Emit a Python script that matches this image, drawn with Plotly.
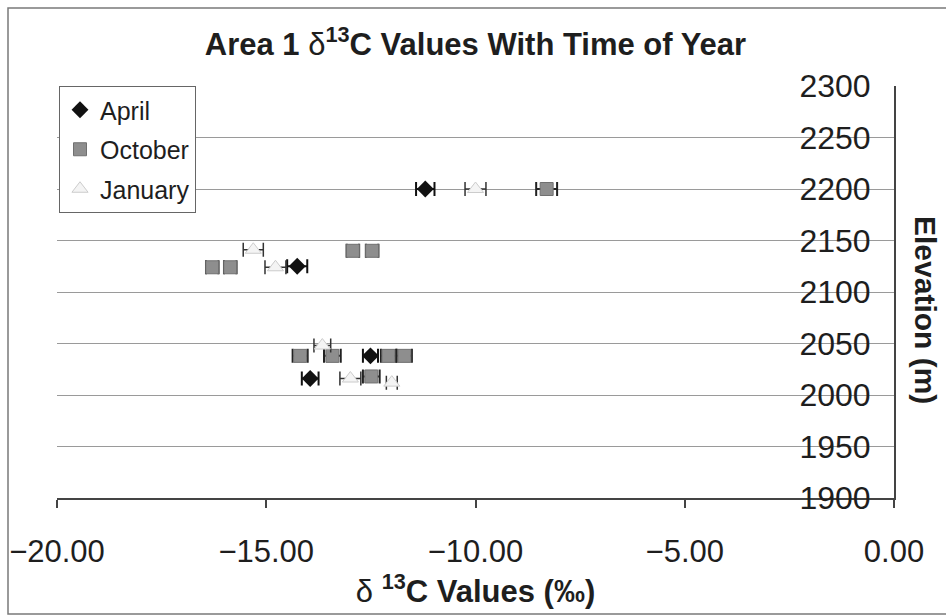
import plotly.graph_objects as go

# ---- data ----
april_x = [-11.20, -14.26, -12.51, -13.95]
april_y = [2200, 2125, 2038, 2016]
april_err = [0.22, 0.24, 0.18, 0.20]

october_x = [-8.30, -12.93, -12.47, -16.29, -15.86, -14.19, -13.42, -12.08, -11.70, -12.49]
october_y = [2200, 2140, 2140, 2124, 2124, 2038, 2038, 2038, 2038, 2018]
october_err = [0.25, 0.15, 0.15, 0.15, 0.15, 0.18, 0.20, 0.18, 0.18, 0.20]

january_x = [-10.00, -15.31, -14.78, -13.66, -12.99, -12.00]
january_y = [2200, 2141, 2124, 2048, 2016, 2012]
january_err = [0.25, 0.24, 0.25, 0.20, 0.25, 0.13]

x_range = [-20, 0]
y_range = [1900, 2300]

FONT = "Liberation Sans, Arial, sans-serif"
TXT = "#1e1e1e"

# plot area in pixels (for paper conversions)
L, R, T, B = 57, 894, 86, 498
W, H = 946, 616


def px_x(px):
    return (px - L) / (R - L)


def px_y(py):
    return (B - py) / (B - T)


fig = go.Figure()

fig.add_trace(go.Scatter(
    x=april_x, y=april_y, mode="markers", name="April", legendgroup="a",
    marker=dict(symbol="diamond", size=13, color="#111111",
                line=dict(width=0)),
    error_x=dict(type="data", array=april_err, visible=True,
                 color="#111111", thickness=2, width=7),
))
fig.add_trace(go.Scatter(
    x=october_x, y=october_y, mode="markers", name="October", legendgroup="o",
    marker=dict(symbol="square", size=13, color="#8e8e8e",
                line=dict(width=1, color="#707070")),
    error_x=dict(type="data", array=october_err, visible=True,
                 color="#222222", thickness=2, width=7),
))
fig.add_trace(go.Scatter(
    x=january_x, y=january_y, mode="markers", name="January", legendgroup="j",
    marker=dict(symbol="triangle-up", size=14, color="#f4f4f4",
                line=dict(width=1, color="#cccccc")),
    error_x=dict(type="data", array=january_err, visible=True,
                 color="#333333", thickness=1.5, width=7),
))

fig.update_layout(
    width=W, height=H,
    paper_bgcolor="white", plot_bgcolor="white",
    margin=dict(l=L, r=W - R, t=T, b=H - B, pad=0, autoexpand=False),
    font=dict(family=FONT, color=TXT),
    title=dict(
        text="<b>Area 1 </b>δ<sup><b>13</b></sup><b>C Values With Time of Year</b>",
        font=dict(size=31, family=FONT, color=TXT),
        x=(L + R) / 2 / W, xanchor="center", xref="container",
        y=1 - 44 / H, yanchor="middle", yref="container",
        automargin=False,
    ),
    showlegend=True,
    legend=dict(
        x=px_x(59), y=1.0, xanchor="left", yanchor="top",
        bgcolor="white", bordercolor="#666666", borderwidth=1,
        font=dict(size=25, family=FONT, color=TXT),
        traceorder="grouped", tracegroupgap=4,
        itemwidth=30,
    ),
    xaxis=dict(
        range=x_range, dtick=5, tick0=-20, tickformat=".2f",
        showgrid=False, zeroline=False, automargin=False,
        showline=True, linecolor="#444444", linewidth=1.5,
        ticks="outside", ticklen=8, tickcolor="#444444", tickwidth=1.5,
        tickfont=dict(size=31, family=FONT, color=TXT),
        ticklabelstandoff=17, ticklabeloverflow="allow",
        title=dict(text="δ <sup><b>13</b></sup><b>C Values (‰)</b>",
                   font=dict(size=31, family=FONT, color=TXT), standoff=4),
    ),
    yaxis=dict(
        range=y_range, dtick=50, tick0=1900, side="right",
        ticklabelposition="inside", ticks="", automargin=False,
        showgrid=True, gridcolor="#9a9a9a", gridwidth=1,
        zeroline=False,
        showline=True, linecolor="#444444", linewidth=1.5,
        tickfont=dict(size=32, family=FONT, color=TXT),
        ticklabelstandoff=27, ticklabeloverflow="allow",
    ),
    annotations=[dict(
        text="<b>Elevation (m)</b>", textangle=90,
        x=px_x(926), y=px_y(310), xref="paper", yref="paper",
        xanchor="center", yanchor="middle", showarrow=False,
        font=dict(size=30, family=FONT, color=TXT),
    )],
    shapes=[dict(
        type="rect", xref="paper", yref="paper",
        x0=px_x(8), x1=px_x(952), y0=px_y(614), y1=px_y(8),
        line=dict(color="#7a7a7a", width=1.5), fillcolor="rgba(0,0,0,0)",
        layer="below",
    )],
)

fig.write_html(
    "out.html",
    config={"displayModeBar": False},
    post_script="document.body.style.margin='0px';document.body.style.padding='0px';",
)
